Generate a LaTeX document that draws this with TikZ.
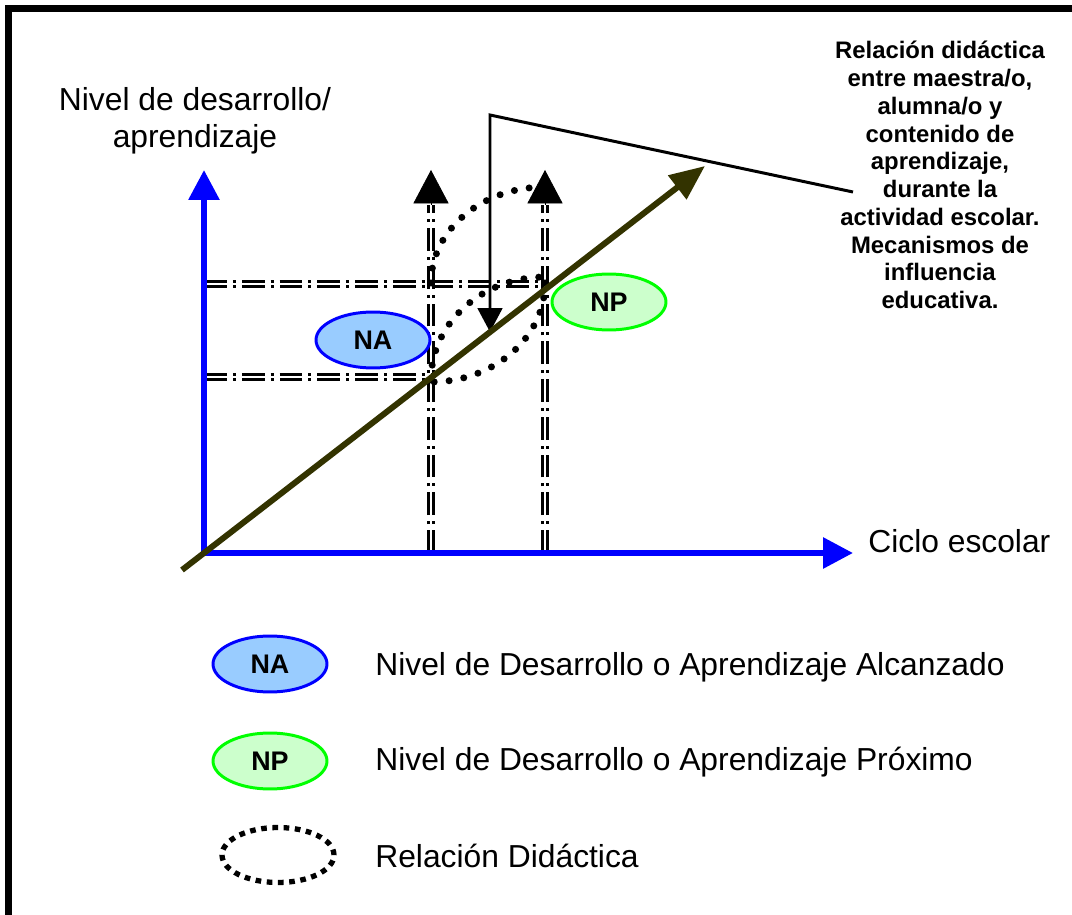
\documentclass[tikz,border=0pt]{standalone}
\usepackage{fontspec}
\setmainfont{Liberation Sans}
\usetikzlibrary{arrows.meta,shapes.geometric}

\definecolor{nafill}{HTML}{99CCFF}
\definecolor{npfill}{HTML}{CCFFCC}
\definecolor{npline}{HTML}{00FF00}
\definecolor{diagcol}{HTML}{333300}

\begin{document}
\begin{tikzpicture}[x=0.02cm,y=-0.02cm,
axis/.style={blue,line width=3.4pt,{Triangle[length=17pt,width=17pt]}-{Triangle[length=17pt,width=17pt]}},
diag/.style={diagcol,line width=3.4pt,-{Triangle[length=20pt,width=16.5pt]}},
guide/.style={double,double distance=1.2pt,line width=1.5pt,dash pattern=on 13pt off 3.4pt on 1.7pt off 3.4pt},
vhead/.style={line width=0.4pt,-{Triangle[length=19pt,width=20pt]}},
pointer/.style={line width=1.7pt,-{Triangle[length=13.6pt,width=14pt]}},
dots/.style={line width=4pt,line cap=round,dash pattern=on 0pt off 8.5pt},
nivel/.style={ellipse,line width=1.7pt,minimum width=2.28cm,minimum height=1.12cm,inner sep=0pt,font=\fontsize{15.3}{18}\selectfont\bfseries},
na/.style={nivel,draw=blue,fill=nafill},
np/.style={nivel,draw=npline,fill=npfill},
axtext/.style={font=\fontsize{18.1}{21}\selectfont,inner sep=0pt},
reltext/.style={font=\bfseries\fontsize{13.6}{15.8}\selectfont,align=center,inner sep=0pt}]

\useasboundingbox (0,0) rectangle (1072,915);
\clip (0,0) rectangle (1072,915);
\draw [line width=4pt] (8.5,8.5) rectangle (1100,950);

% points of the chart
\coordinate (O) at (204,553);
\coordinate (ytip) at (204,170);
\coordinate (xtip) at (853,553);
\coordinate (dstart) at (182,570);
\coordinate (dtip) at (705,166);
\coordinate (a) at (431,377);
\coordinate (p) at (545,284);
\coordinate (ay) at (204,377);
\coordinate (py) at (204,284);
\coordinate (ax) at (431,553);
\coordinate (px) at (545,553);
\coordinate (abase) at (431,205);
\coordinate (pbase) at (545,205);
\coordinate (atop) at (431,170);
\coordinate (ptop) at (545,170);
\coordinate (relend) at (853,192);
\coordinate (bend) at (490,115);
\coordinate (down) at (490,332);

% guides
\draw [guide] (py) -- (p);
\draw [guide] (ay) -- (a);
\draw [guide] (ax) -- (abase);
\draw [guide] (px) -- (pbase);
\draw [vhead] (abase) -- (atop);
\draw [vhead] (pbase) -- (ptop);

\node (na) at (373,340) [na] {NA};
\node (np) at (609,302) [np] {NP};

\draw [axis] (ytip) -- (O) -- (xtip);

% didactic relation
\draw [dots] (431,283) arc [start angle=180,end angle=270,x radius=114,y radius=96];
\draw [dots] (431,380) arc [start angle=180,end angle=270,x radius=114,y radius=103];
\draw [dots] (545,283) arc [start angle=0,end angle=90,x radius=114,y radius=99];

\node (rel) at (940,175) [reltext] {Relación didáctica\\entre maestra/o,\\alumna/o y\\contenido de\\aprendizaje,\\durante la\\actividad escolar.\\Mecanismos de\\influencia\\educativa.};
\draw [pointer] (relend) -- (bend) -- (down);

\draw [diag] (dstart) -- (dtip);

\node (ylab) at (195,121) [axtext,align=center] {Nivel de desarrollo/\\aprendizaje};
\node (xlab) at (868,552) [axtext,anchor=base west] {Ciclo escolar};

% legend
\node (lna) at (270,664) [na] {NA};
\node (lnp) at (270,761) [np] {NP};
\node (lrd) at (278,855) [ellipse,draw,line width=3pt,dash pattern=on 3.2pt off 3.2pt,minimum width=2.24cm,minimum height=1.1cm] {};
\node (tna) at (375,675) [axtext,anchor=base west] {Nivel de Desarrollo o Aprendizaje Alcanzado};
\node (tnp) at (375,770) [axtext,anchor=base west] {Nivel de Desarrollo o Aprendizaje Próximo};
\node (trd) at (375,867) [axtext,anchor=base west] {Relación Didáctica};

\end{tikzpicture}
\end{document}
